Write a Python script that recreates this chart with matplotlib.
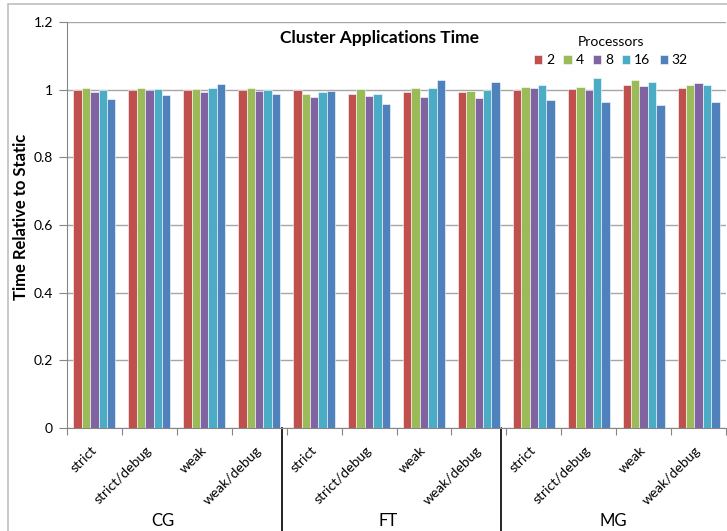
import numpy as np
import matplotlib
matplotlib.use("Agg")
import matplotlib.pyplot as plt
from matplotlib.patches import Rectangle
from matplotlib.transforms import offset_copy

plt.rcParams['font.family'] = ['Lato', 'DejaVu Sans']

# data
apps = ["CG", "FT", "MG"]
modes = ["strict", "strict/debug", "weak", "weak/debug"]
procs = ["2", "4", "8", "16", "32"]
colors = ["#C0504D", "#9BBB59", "#8064A2", "#4BACC6", "#4F81BD"]

# one row per (app, mode), columns = processors 2,4,8,16,32
cg = [[1.000, 1.004, 0.993, 1.000, 0.972],
      [1.000, 1.006, 1.000, 1.003, 0.985],
      [1.000, 1.003, 0.994, 1.005, 1.018],
      [1.000, 1.006, 0.995, 1.000, 0.986]]
ft = [[0.998, 0.987, 0.978, 0.992, 0.996],
      [0.987, 1.002, 0.980, 0.988, 0.957],
      [0.994, 1.004, 0.978, 1.004, 1.029],
      [0.994, 0.997, 0.974, 1.000, 1.023]]
mg = [[1.000, 1.007, 1.006, 1.013, 0.968],
      [1.003, 1.009, 1.000, 1.034, 0.965],
      [1.014, 1.030, 1.011, 1.024, 0.954],
      [1.006, 1.015, 1.019, 1.015, 0.965]]

values = np.array(cg + ft + mg)
n_groups = values.shape[0]
labels = modes * len(apps)

fig = plt.figure(figsize=(7.27, 5.31), dpi=100)
ax = fig.add_axes([67 / 727, 1 - 428 / 531, 659 / 727, 406 / 531])

# outer chart border
fig.patches.append(Rectangle((8 / 727, -0.1), 1.2, 1 - 4 / 531 + 0.1, transform=fig.transFigure,
                             fill=False, edgecolor="#BFBFBF", lw=1.2))

bw = 0.153
centers = np.arange(n_groups) + 0.5
for j in range(len(procs)):
    x = centers + (j - 2) * bw
    ax.bar(x, values[:, j], width=bw, color=colors[j], edgecolor="white", linewidth=0.4,
           label=procs[j], zorder=3)

ax.set_xlim(0, n_groups)
ax.set_ylim(0, 1.2)
ax.set_yticks(np.arange(0, 1.21, 0.2))
ax.set_yticklabels(["0", "0.2", "0.4", "0.6", "0.8", "1", "1.2"], fontsize=10)
ax.yaxis.grid(True, color="#A6A6A6", lw=1.0, zorder=0)
ax.tick_params(axis="y", length=6, color="#868686", pad=4)

ax.set_xticks(np.arange(n_groups + 1))
ax.set_xticklabels([])
ax.tick_params(axis="x", length=5, direction="out", color="#868686")

for s in ["top", "right"]:
    ax.spines[s].set_visible(False)
for s in ["left", "bottom"]:
    ax.spines[s].set_color("#868686")

# rotated category labels
tr = offset_copy(ax.get_xaxis_transform(), fig=fig, x=-4, y=-16, units="dots")
for c, lab in zip(centers, labels):
    ax.text(c, 0, lab, rotation=45, ha="right", va="top", rotation_mode="anchor",
            fontsize=10, transform=tr)

# group labels and separators
group_x = [1.75, 5.85, 9.95]
for gx, app in zip(group_x, apps):
    ax.text(gx, -0.228, app, ha="center", va="center", fontsize=12,
            transform=ax.get_xaxis_transform())
for b in [4, 8]:
    ax.plot([b - 0.09, b - 0.09], [0, -0.3], color="black", lw=1.2,
            transform=ax.get_xaxis_transform(), clip_on=False)

ax.set_ylabel("Time Relative to Static", fontsize=12, fontweight="bold")
ax.yaxis.set_label_coords(-0.058, 0.52)

fig.text(380 / 727, 1 - 38 / 531, "Cluster Applications Time", ha="center", va="center",
         fontsize=12.5, fontweight="bold")

ax.legend(title="Processors", ncol=5, loc="center", bbox_to_anchor=(611 / 727, 1 - 51 / 531),
          bbox_transform=fig.transFigure, frameon=False, fontsize=10, title_fontsize=10,
          handlelength=0.58, handleheight=0.58, handletextpad=0.3, columnspacing=0.65,
          borderpad=0)

fig.savefig("out.png", dpi=100)
